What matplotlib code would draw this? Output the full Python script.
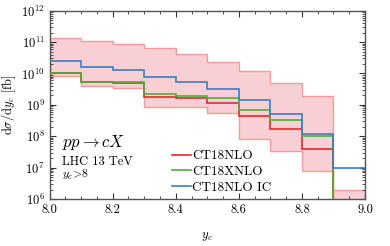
import numpy as np
import matplotlib
matplotlib.use('Agg')
import matplotlib.pyplot as plt
from matplotlib.ticker import MultipleLocator, LogLocator, NullFormatter, FormatStrFormatter

plt.rcParams['font.family'] = 'serif'
plt.rcParams['font.serif'] = ['cmr10']
plt.rcParams['mathtext.fontset'] = 'cm'
plt.rcParams['axes.formatter.use_mathtext'] = True
plt.rcParams['font.size'] = 9

# bords des bins en y_c
edges = np.linspace(8.0, 9.0, 11)

# bande d'incertitude CT18NLO
band_hi = [1.37e11, 1.10e11, 8.85e10, 6.28e10, 4.08e10, 2.35e10, 1.18e10, 5.15e9, 1.88e9, 1.97e6]
band_lo = [8.2e9, 3.93e9, 3.47e9, 8.6e8, 8.6e8, 5.66e8, 8.4e7, 3.37e7, 7.7e6, 1e4]

# valeurs centrales
ct18nlo = [1.02e10, 5.27e9, 4.9e9, 1.84e9, 1.69e9, 1.15e9, 4.5e8, 1.72e8, 4.0e7, 1e4]
ct18xnlo = [1.07e10, 5.54e9, 5.27e9, 2.18e9, 1.93e9, 1.62e9, 7.06e8, 3.22e8, 9.9e7, 1e4]
ct18nlo_ic = [2.41e10, 1.63e10, 1.31e10, 8.0e9, 5.47e9, 3.15e9, 1.40e9, 5.0e8, 1.21e8, 9.9e6]

fig = plt.figure(figsize=(3.9, 2.46), dpi=100)
ax = fig.add_axes([0.127, 0.191, 0.809, 0.7655])

# bande: remplissage + contour
ax.stairs(band_hi, edges, baseline=band_lo, fill=True, facecolor='#f8d0d4',
          edgecolor='#f49a9a', lw=1.0, zorder=1)

ax.stairs(ct18nlo, edges, baseline=None, color='#e8272c', lw=1.2, label='CT18NLO', zorder=3)
ax.stairs(ct18xnlo, edges, baseline=None, color='#4daf3a', lw=1.2, label='CT18XNLO', zorder=3)
ax.stairs(ct18nlo_ic, edges, baseline=None, color='#3b7ec4', lw=1.2, label='CT18NLO IC', zorder=4)

ax.set_yscale('log')
ax.set_xlim(8.0, 9.0)
ax.set_ylim(1e6, 1e12)
ax.xaxis.set_major_locator(MultipleLocator(0.2))
ax.xaxis.set_minor_locator(MultipleLocator(0.05))
ax.yaxis.set_major_locator(LogLocator(base=10, numticks=20))
ax.yaxis.set_minor_locator(LogLocator(base=10, subs=np.arange(2, 10), numticks=20))
ax.yaxis.set_minor_formatter(NullFormatter())
ax.xaxis.set_major_formatter(FormatStrFormatter('%.1f'))
ax.tick_params(which='both', direction='in', top=True, right=True, colors='#333333', labelcolor='black')
ax.tick_params(which='major', length=4, width=0.8)
ax.tick_params(which='minor', length=2, width=0.6)
for s in ax.spines.values():
    s.set_color('#555555')
    s.set_linewidth(1.0)

ax.set_xlabel(r'$y_c$', labelpad=10)
ax.set_ylabel(r'd$\sigma$/d$y_c$ [fb]', labelpad=2)

ax.text(0.04, 0.275, r'$pp \rightarrow cX$', transform=ax.transAxes, fontsize=12)
ax.text(0.04, 0.18, 'LHC 13 TeV', transform=ax.transAxes, fontsize=9)
ax.text(0.04, 0.11, r'$y_c\!>\!8$', transform=ax.transAxes, fontsize=8.5)

ax.legend(loc='lower left', bbox_to_anchor=(0.36, -0.02), frameon=False, handlelength=1.4,
          handletextpad=0.1, labelspacing=0.25, fontsize=9.5, borderaxespad=0.3)

fig.savefig('out.png', dpi=100)
